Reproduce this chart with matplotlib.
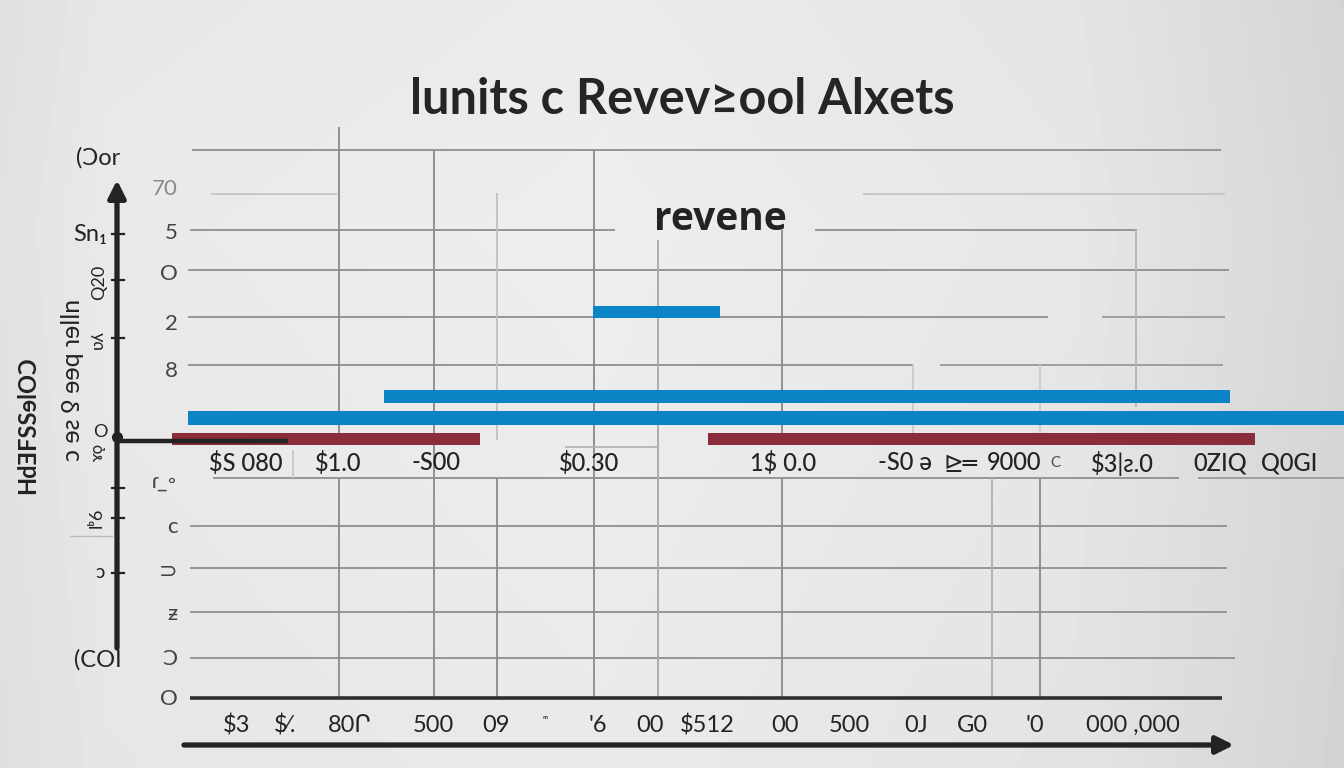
import numpy as np
import matplotlib.pyplot as plt

W, H = 1344, 768

# horizontal bars in chart units (x: 0-100, y: 0-12)
blue_start = [38.9, 18.7, -0.2]
blue_end = [51.2, 100.5, 111.5]
blue_level = [8.45, 6.61, 6.13]
red_start = [-1.7, 50.0]
red_end = [28.0, 102.9]
red_level = [5.67, 5.67]

y_ticks = [0.02, 0.9, 1.88, 2.8, 3.79, 4.77, 7.2, 8.23, 9.33, 10.23, 11.19]
y_labels = ["O", "Ɔ", "ƶ", "⊃", "c", "ɾ_◦", "8", "2", "O", "5", "70"]

x_ticks = [4.5, 9.2, 15.4, 23.5, 29.6, 34.3, 39.4, 44.4, 50.0, 57.5, 63.7, 70.2, 75.6, 81.6, 91.1]
x_labels = ["$3", "$⁄.", "80Ր", "500", "09", "ᵐ", "'6", "00", "$512", "00", "500", "0J", "G0", "'0", "000 ,000"]

band_x = [5.4, 14.3, 23.8, 38.6, 57.3, 69.1, 74.4, 79.6, 83.6, 90.1, 99.5, 106.2]
band_labels = ["$S 080", "$1.0", "-S00", "$0.30", "1$ 0.0", "-S0 ə", "⊵═", "9000", "C",
               "$3|ƨ.0", "0ZIQ", "Q0GI"]

title = "lunits c Revev≥ool Alxets"
inner_label = "revene"

BLUE = "#0b84c6"
RED = "#8a2c3a"
INK = "#232323"
FAM = ["Lato", "DejaVu Sans"]

plt.rcParams["font.family"] = FAM


def fx(px):
    return px / W


def fy(py):
    return 1 - py / H


def ux(px):
    return (px - 190) / 10.35


def uy(py):
    return (698 - py) / 548 * 12


fig = plt.figure(figsize=(W / 100, H / 100), dpi=100)

# paper background
bg = fig.add_axes([0, 0, 1, 1], zorder=-10)
gx = np.linspace(0, 1, 336)
row = np.interp(gx, [0, 0.08, 0.45, 0.8, 1], [0.885, 0.915, 0.93, 0.905, 0.84])
gy = np.linspace(0, 1, 192)
col = np.interp(gy, [0, 0.3, 1], [0.99, 1.0, 0.985])
bg.imshow(np.outer(col, row), cmap="gray", vmin=0, vmax=1, aspect="auto",
          extent=[0, W, H, 0])
bg.set_xlim(0, W)
bg.set_ylim(H, 0)
bg.axis("off")

ax = fig.add_axes([fx(190), fy(698), 1035 / W, 548 / H])
ax.set_xlim(0, 100)
ax.set_ylim(0, 12)
ax.patch.set_alpha(0)
for s in ax.spines.values():
    s.set_visible(False)

# grid pieces (pixel layout -> chart units)
h_grid = [
    (150, 192, 1221, "#8f8f8f"), (194, 211, 337, "#c4c4c4"), (194, 863, 1225, "#c4c4c4"),
    (230, 190, 615, "#8f8f8f"), (230, 815, 1137, "#8f8f8f"), (270, 188, 1229, "#8f8f8f"),
    (317, 188, 1048, "#8f8f8f"), (317, 1102, 1225, "#9a9a9a"), (365, 188, 913, "#8f8f8f"),
    (365, 940, 1223, "#9a9a9a"), (478, 213, 1179, "#8f8f8f"), (478, 1198, 1344, "#9a9a9a"),
    (526, 190, 1227, "#8f8f8f"), (568, 190, 1227, "#8f8f8f"), (612, 190, 1227, "#8f8f8f"),
    (658, 190, 1235, "#8f8f8f"),
]
for py, x0, x1, c in h_grid:
    ax.hlines(uy(py), ux(x0), ux(x1), color=c, lw=1.3, clip_on=False, zorder=1)

v_grid = [
    (339, 127, 440, "#8a8a8a"), (339, 478, 698, "#8a8a8a"), (434, 150, 698, "#8a8a8a"),
    (497, 193, 440, "#c0c0c0"), (497, 478, 698, "#8a8a8a"), (594, 150, 698, "#8a8a8a"),
    (658, 240, 698, "#a8a8a8"), (782, 230, 440, "#8a8a8a"), (782, 478, 698, "#8a8a8a"),
    (913, 365, 440, "#cacaca"), (992, 478, 698, "#b0b0b0"), (1040, 365, 440, "#cacaca"),
    (1040, 478, 698, "#8a8a8a"), (1136, 230, 407, "#b5b5b5"),
    (293, 450, 478, "#c8c8c8"), (658, 447, 478, "#b0b0b0"),
]
for px, y0, y1, c in v_grid:
    ax.vlines(ux(px), uy(y1), uy(y0), color=c, lw=1.3, clip_on=False, zorder=1)
ax.hlines(uy(447), ux(565), ux(659), color="#b0b0b0", lw=1.2, clip_on=False, zorder=1)

# base line
ax.hlines(0, 0, ux(1222), color="#2e2e2e", lw=2.6, clip_on=False, zorder=3)

# bars
blue_h = [0.25, 0.28, 0.30]
for s, e, lv, hh in zip(blue_start, blue_end, blue_level, blue_h):
    ax.barh(lv, e - s, left=s, height=hh, color=BLUE, clip_on=False, zorder=4)
ax.barh(red_level, np.array(red_end) - np.array(red_start), left=red_start, height=0.26,
        color=RED, clip_on=False, zorder=4)

# value band text
for bx, lab in zip(band_x, band_labels):
    small = lab in ("C",)
    ax.text(bx, uy(463), lab, ha="center", va="center", fontsize=11 if small else 17,
            color="#555" if small else INK, weight="medium", clip_on=False, zorder=5)

ax.text(ux(720), uy(220), inner_label, ha="center", va="center", fontsize=28,
        weight="bold", family=["Open Sans", "DejaVu Sans"], color=INK, zorder=5)

ax.set_yticks(y_ticks, y_labels)
ax.set_xticks(x_ticks, x_labels)
ax.tick_params(axis="y", length=0, pad=9, labelsize=16, labelcolor="#444")
ax.tick_params(axis="x", length=0, pad=12, labelsize=17, labelcolor=INK)
ax.get_xticklabels()[5].set_fontsize(8)
ax.get_yticklabels()[-1].set_color("#8a8a8a")

# overlay for axis arrows and side scribbles
ov = fig.add_axes([0, 0, 1, 1], zorder=6)
ov.set_xlim(0, W)
ov.set_ylim(H, 0)
ov.axis("off")
ov.patch.set_alpha(0)

ov.annotate("", xy=(117, 180), xytext=(117, 648),
            arrowprops=dict(arrowstyle="-|>", lw=3.8, color=INK, mutation_scale=26,
                            shrinkA=0, shrinkB=0))
ov.annotate("", xy=(1234, 745), xytext=(184, 745),
            arrowprops=dict(arrowstyle="-|>", lw=3.8, color=INK, mutation_scale=26,
                            shrinkA=0, shrinkB=0))
ov.plot([117, 288], [441, 441], color=INK, lw=3.2, solid_capstyle="butt")
ov.plot([117], [437], "o", color=INK, ms=7)
for ty in [234, 280, 338, 488, 518, 573]:
    ov.plot([112, 124], [ty, ty], color=INK, lw=1.6)
ov.plot([70, 112], [536, 536], color="#bbbbbb", lw=1.0)

ov.text(98, 158, "(Ɔor", ha="center", va="center", fontsize=17, color=INK)
ov.text(98, 660, "(COI", ha="center", va="center", fontsize=17, color=INK)
ov.text(90, 235, "Sn₁", ha="center", va="center", fontsize=17, color=INK)
ov.text(28, 425, "HdƎFSSɘlOƆ", ha="center", va="center", fontsize=17, rotation=90,
        color=INK, weight="bold")
ov.text(72, 380, "ɔ ɘƨ ƍ ɘɘq ɿɘlln", ha="center", va="center", fontsize=18,
        rotation=90, color=INK)
ov.text(99, 282, "Q20", ha="center", va="center", fontsize=13, rotation=90, color=INK)
ov.text(98, 340, "ʋʎ", ha="center", va="center", fontsize=13, rotation=90, color=INK)
ov.text(100, 432, "O", ha="center", va="center", fontsize=13, color=INK)
ov.text(98, 452, "ɤǫ", ha="center", va="center", fontsize=12, rotation=90, color=INK)
ov.text(97, 518, "lᵇ6", ha="center", va="center", fontsize=13, rotation=90, color=INK)
ov.text(100, 573, "ↄ", ha="center", va="center", fontsize=14, color=INK)

fig.text(fx(682), fy(100), title, ha="center", va="center", fontsize=35,
         weight="bold", color="#252525")

fig.savefig("out.png", dpi=100)
